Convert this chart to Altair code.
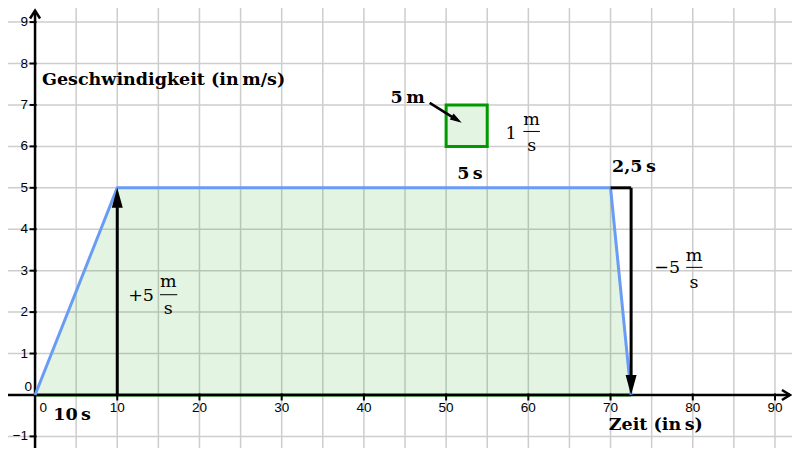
import altair as alt
import pandas as pd

# ---------------- data ----------------
X_MIN, X_MAX = -3.29, 92.07
Y_MIN, Y_MAX = -1.28, 9.34

trap_t = [0, 10, 70, 72.5]
trap_v = [0, 5, 5, 0]

x_grid = list(range(5, 95, 5))
y_grid = [-1, 1, 2, 3, 4, 5, 6, 7, 8, 9]
x_tick_vals = [10, 20, 30, 40, 50, 60, 70, 80, 90]
x_tick_labels = ["10", "20", "30", "40", "50", "60", "70", "80", "90"]
y_tick_vals = [-1, 1, 2, 3, 4, 5, 6, 7, 8, 9]
y_tick_labels = ["\u22121", "1", "2", "3", "4", "5", "6", "7", "8", "9"]

# square (1 m/s x 5 s = 5 m)
sq_t = [50, 55]
sq_v = [6, 7]

# bold annotation labels (center aligned)
bold_text = ["5\u2009s", "2,5\u2009s", "10\u2009s", "Zeit (in\u2009s)"]
bold_x = [52.9, 72.85, 4.5, 75.5]
bold_y = [5.33, 5.50, -0.48, -0.72]

# regular-weight fraction labels (center aligned)
frac_text = ["+5", "\u22125", "1", "m", "s", "m", "s", "m", "s"]
frac_x = [12.9, 76.9, 57.9, 16.2, 16.2, 80.15, 80.15, 60.4, 60.4]
frac_y = [2.39, 3.06, 6.29, 2.72, 2.08, 3.36, 2.70, 6.64, 6.02]

# fraction bars
bar_x1 = [15.2, 79.2, 59.4]
bar_x2 = [17.3, 81.2, 61.4]
bar_y = [2.42, 3.08, 6.36]

GREEN = "#009900"
BLUE = "#6a9cf5"
GRID = "#cdcdcd"
SERIF = "DejaVu Serif"
SANS = "Liberation Sans"
LFS = 17.5

xs = alt.Scale(domain=[X_MIN, X_MAX], nice=False, zero=False)
ys = alt.Scale(domain=[Y_MIN, Y_MAX], nice=False, zero=False)


def X(field="x"):
    return alt.X(f"{field}:Q", scale=xs, axis=None)


def Y(field="y"):
    return alt.Y(f"{field}:Q", scale=ys, axis=None)


trap = pd.DataFrame({"x": trap_t, "y": trap_v, "o": range(len(trap_t))})

# grid
vgrid = alt.Chart(pd.DataFrame({"x": x_grid})).mark_rule(color=GRID, strokeWidth=1.5).encode(x=X())
hgrid = alt.Chart(pd.DataFrame({"y": y_grid})).mark_rule(color=GRID, strokeWidth=1.5).encode(y=Y())

# fill area
area = alt.Chart(trap).mark_area(color=GREEN, opacity=0.11).encode(
    x=X(), y=Y(), y2=alt.datum(0),
)

square = alt.Chart(pd.DataFrame({"x": [sq_t[0]], "x2": [sq_t[1]], "y": [sq_v[0]], "y2": [sq_v[1]]})).mark_rect(
    fill=GREEN, fillOpacity=0.11, stroke=GREEN, strokeWidth=3
).encode(x=X(), x2="x2:Q", y=Y(), y2="y2:Q")

# coordinate axes
axes_df = pd.DataFrame({
    "x": [X_MIN, 0], "x2": [X_MAX - 0.25, 0],
    "y": [0, Y_MIN], "y2": [0, Y_MAX - 0.06],
})
axes_lines = alt.Chart(axes_df).mark_rule(color="black", strokeWidth=2.5).encode(
    x=X(), x2="x2:Q", y=Y(), y2="y2:Q"
)
x_arrow = alt.Chart(pd.DataFrame({"x": [X_MAX - 0.25], "y": [0]})).mark_point(
    shape="M-2,-1.25 L0,0 L-2,1.25", filled=False, stroke="black", strokeWidth=2.5, size=64, opacity=1
).encode(x=X(), y=Y())
y_arrow = alt.Chart(pd.DataFrame({"x": [0], "y": [Y_MAX - 0.06]})).mark_point(
    shape="M-1.25,2 L0,0 L1.25,2", filled=False, stroke="black", strokeWidth=2.5, size=64, opacity=1
).encode(x=X(), y=Y())

x_ticks = alt.Chart(pd.DataFrame({"x": x_tick_vals, "y": [0] * len(x_tick_vals)})).mark_tick(
    orient="vertical", color="black", size=7, thickness=2, yOffset=2, opacity=1
).encode(x=X(), y=Y())
y_ticks = alt.Chart(pd.DataFrame({"x": [0] * len(y_tick_vals), "y": y_tick_vals})).mark_tick(
    orient="horizontal", color="black", size=7, thickness=2, xOffset=-2, opacity=1
).encode(x=X(), y=Y())

x_labels = alt.Chart(pd.DataFrame({"x": x_tick_vals, "y": [-0.31] * len(x_tick_vals), "t": x_tick_labels})).mark_text(
    font=SANS, fontSize=13.5, color="black", align="center", baseline="middle"
).encode(x=X(), y=Y(), text="t:N")
y_labels = alt.Chart(pd.DataFrame({"x": [-0.85] * len(y_tick_vals), "y": y_tick_vals, "t": y_tick_labels})).mark_text(
    font=SANS, fontSize=13.5, color="black", align="right", baseline="middle"
).encode(x=X(), y=Y(), text="t:N")
origin_labels = alt.Chart(pd.DataFrame({"x": [0.97, -0.85], "y": [-0.31, 0.2], "t": ["0", "0"]})).mark_text(
    font=SANS, fontSize=13.5, color="black", align="right", baseline="middle", dx=4
).encode(x=X(), y=Y(), text="t:N")

# green baseline and blue graph
baseline = alt.Chart(pd.DataFrame({"x": [0], "x2": [72.5], "y": [0]})).mark_rule(
    color=GREEN, strokeWidth=3
).encode(x=X(), x2="x2:Q", y=Y())
graph = alt.Chart(trap).mark_line(color=BLUE, strokeWidth=3).encode(x=X(), y=Y(), order="o:Q")

# black arrows
arr_df = pd.DataFrame({
    "x": [10, 70, 72.5], "x2": [10, 72.5, 72.5],
    "y": [0, 5, 5], "y2": [4.7, 5, 0.3],
})
arrows = alt.Chart(arr_df).mark_rule(color="black", strokeWidth=3).encode(
    x=X(), x2="x2:Q", y=Y(), y2="y2:Q"
)
head_up = alt.Chart(pd.DataFrame({"x": [10], "y": [5]})).mark_point(
    shape="M0,0 L0.55,2 L-0.55,2 Z", filled=True, color="black", size=400, opacity=1
).encode(x=X(), y=Y())
head_down = alt.Chart(pd.DataFrame({"x": [72.5], "y": [0]})).mark_point(
    shape="M0,0 L0.55,-2 L-0.55,-2 Z", filled=True, color="black", size=400, opacity=1
).encode(x=X(), y=Y())

# small arrow "5 m" -> square
small_arrow = alt.Chart(pd.DataFrame({"x": [48.0], "x2": [51.3], "y": [7.05], "y2": [6.64]})).mark_rule(
    color="black", strokeWidth=2.5
).encode(x=X(), x2="x2:Q", y=Y(), y2="y2:Q")
small_head = alt.Chart(pd.DataFrame({"x": [51.9], "y": [6.57]})).mark_point(
    shape="M0,0 L0.6,2 L-0.6,2 Z", filled=True, color="black", size=140, angle=122, opacity=1
).encode(x=X(), y=Y())

# fraction bars
bars = alt.Chart(pd.DataFrame({"x": bar_x1, "x2": bar_x2, "y": bar_y})).mark_rule(
    color="black", strokeWidth=1
).encode(x=X(), x2="x2:Q", y=Y())

# texts
bold_labels = alt.Chart(pd.DataFrame({"x": bold_x, "y": bold_y, "t": bold_text})).mark_text(
    font=SERIF, fontSize=LFS, fontWeight="bold", color="black", align="center", baseline="middle"
).encode(x=X(), y=Y(), text="t:N")
frac_labels = alt.Chart(pd.DataFrame({"x": frac_x, "y": frac_y, "t": frac_text})).mark_text(
    font=SERIF, fontSize=LFS, color="black", align="center", baseline="middle"
).encode(x=X(), y=Y(), text="t:N")
title_lbl = alt.Chart(pd.DataFrame({"x": [0.85], "y": [7.60], "t": ["Geschwindigkeit (in\u2009m/s)"]})).mark_text(
    font=SERIF, fontSize=LFS, fontWeight="bold", color="black", align="left", baseline="middle"
).encode(x=X(), y=Y(), text="t:N")
five_m = alt.Chart(pd.DataFrame({"x": [47.4], "y": [7.17], "t": ["5\u2009m"]})).mark_text(
    font=SERIF, fontSize=LFS, fontWeight="bold", color="black", align="right", baseline="middle"
).encode(x=X(), y=Y(), text="t:N")

chart = alt.layer(
    vgrid, hgrid, area, square, baseline, axes_lines, x_arrow, y_arrow, x_ticks, y_ticks,
    graph, arrows, head_up, head_down, small_arrow, small_head, bars,
    x_labels, y_labels, origin_labels, bold_labels, frac_labels, title_lbl, five_m,
).properties(
    width=784, height=440,
    autosize=alt.AutoSizeParams(type="none"),
    padding=0,
).configure_view(stroke=None)

chart.save("out.html", embed_options={"renderer": "svg", "actions": False})
